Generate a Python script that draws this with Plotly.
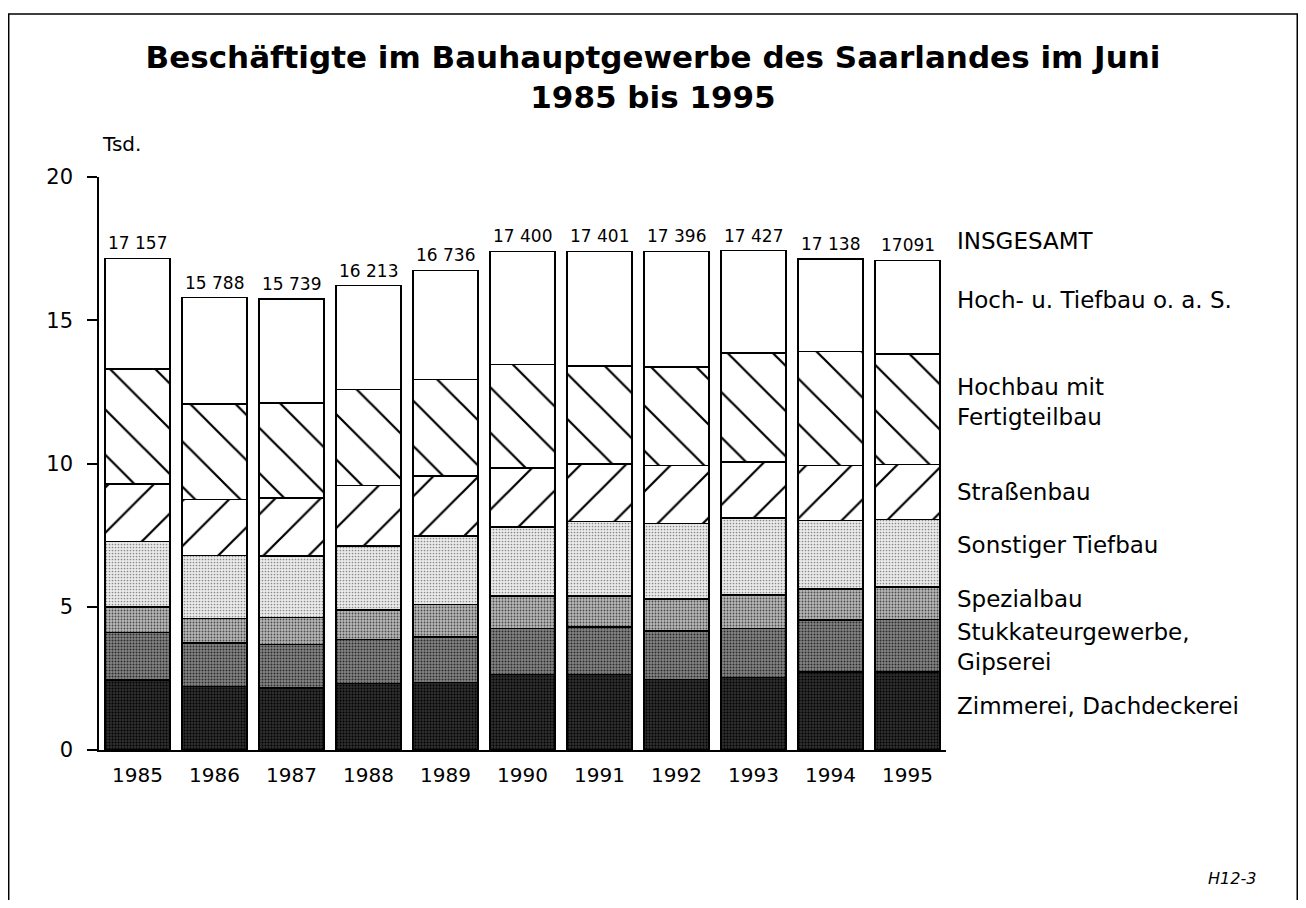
"""Beschäftigte im Bauhauptgewerbe des Saarlandes (Juni 1985-1995) as a
stacked, hatched bar chart in Plotly.
"""

import numpy as np
import plotly.graph_objects as go

# --- data (Tsd.) ----------------------------------------------------------
years = ["1985", "1986", "1987", "1988", "1989", "1990", "1991", "1992", "1993", "1994", "1995"]

zimmerei = [2.44, 2.21, 2.17, 2.32, 2.36, 2.64, 2.64, 2.46, 2.53, 2.73, 2.73]
stukkateur = [1.66, 1.53, 1.51, 1.54, 1.59, 1.60, 1.66, 1.69, 1.71, 1.80, 1.82]
spezialbau = [0.89, 0.85, 0.94, 1.02, 1.13, 1.13, 1.08, 1.13, 1.16, 1.08, 1.14]
sonst_tiefbau = [2.29, 2.20, 2.15, 2.24, 2.39, 2.41, 2.59, 2.62, 2.69, 2.40, 2.36]
strassenbau = [2.01, 1.96, 2.02, 2.11, 2.10, 2.06, 2.02, 2.03, 1.96, 1.92, 1.92]
hochbau = [4.00, 3.33, 3.32, 3.36, 3.36, 3.61, 3.42, 3.43, 3.81, 3.98, 3.85]
hoch_tief_oas = [3.87, 3.71, 3.63, 3.62, 3.81, 3.95, 3.99, 4.04, 3.57, 3.23, 3.27]

total_labels = ["17 157", "15 788", "15 739", "16 213", "16 736", "17 400",
                "17 401", "17 396", "17 427", "17 138", "17091"]

segment_names = [
    "Zimmerei, Dachdeckerei",
    "Stukkateurgewerbe,<br>Gipserei",
    "Spezialbau",
    "Sonstiger Tiefbau",
    "Straßenbau",
    "Hochbau mit<br>Fertigteilbau",
    "Hoch- u. Tiefbau o. a. S.",
]
segment_values = [zimmerei, stukkateur, spezialbau, sonst_tiefbau, strassenbau, hochbau, hoch_tief_oas]

# height (in Tsd.) of the labels on the right, one per segment
label_y = [1.54, 3.6, 5.27, 7.16, 9.0, 12.13, 15.7]
insgesamt_y = 17.75

FONT = "DejaVu Sans, Arial, sans-serif"

# fill style per segment: (pattern shape, fg colour, bg colour, size, solidity)
styles = [
    (".", "#000000", "#2e2e2e", 3, 0.35),
    (".", "#2a2a2a", "#858585", 3, 0.35),
    (".", "#4a4a4a", "#b8b8b8", 3, 0.3),
    (".", "#8a8a8a", "#ebebeb", 3, 0.25),
    ("/", "black", "white", 32, 0.07),
    ("\\", "black", "white", 32, 0.07),
    ("", "black", "white", 8, 0.2),
]

# figure fits inside the page body (8 px margin all round)
W, H = 1290, 892

fig = go.Figure()

for name, vals, (shape, fg, bg, size, sol) in zip(segment_names, segment_values, styles):
    fig.add_trace(
        go.Bar(
            x=years,
            y=vals,
            name=name,
            marker=dict(
                color=bg,
                line=dict(color="black", width=1.6),
                pattern=dict(shape=shape, fgcolor=fg, bgcolor=bg, size=size, solidity=sol, fillmode="replace"),
            ),
            hoverinfo="skip",
        )
    )

totals = np.sum(np.array(segment_values), axis=0)

annotations = []
# totals above the bars (category index as x, the year strings look numeric)
for i, (tot, lab) in enumerate(zip(totals, total_labels)):
    annotations.append(
        dict(x=i, y=float(tot), xref="x", yref="y", text=lab, showarrow=False,
             xanchor="center", yanchor="bottom", yshift=3,
             font=dict(family=FONT, size=17, color="black"))
    )
for name, yv in zip(segment_names, label_y):
    annotations.append(
        dict(x=1.0106, xref="paper", y=yv, yref="y", text=name, showarrow=False,
             xanchor="left", yanchor="middle", align="left",
             font=dict(family=FONT, size=23, color="black"))
    )
annotations += [
    dict(x=1.0106, xref="paper", y=insgesamt_y, yref="y", text="INSGESAMT", showarrow=False,
         xanchor="left", yanchor="middle", font=dict(family=FONT, size=23, color="black")),
    dict(x=0.001, xref="paper", y=1.057, yref="paper", text="Tsd.", showarrow=False,
         xanchor="left", yanchor="middle", font=dict(family=FONT, size=20, color="black")),
    dict(x=1.3684, xref="paper", y=-0.225, yref="paper", text="H12-3", showarrow=False,
         xanchor="right", yanchor="middle",
         font=dict(family=FONT, size=16, color="black", style="italic")),
]

fig.update_layout(
    width=W,
    height=H,
    margin=dict(l=91, r=W - 91 - 847, t=169, b=H - 169 - 573),
    barmode="stack",
    bargap=0.156,
    showlegend=False,
    paper_bgcolor="white",
    plot_bgcolor="white",
    font=dict(family=FONT, color="black"),
    title=dict(
        text="<b>Beschäftigte im Bauhauptgewerbe des Saarlandes im Juni<br>1985 bis 1995</b>",
        x=645 / W, xref="container", xanchor="center",
        y=1 - 60 / H, yref="container", yanchor="middle",
        font=dict(family=FONT, size=31, color="black"),
    ),
    annotations=annotations,
    shapes=[
        dict(type="rect", xref="paper", yref="paper", x0=-0.1066, x1=1.4147, y0=-0.4, y1=1.2845,
             line=dict(color="black", width=1.5), layer="below"),
    ],
)

fig.update_xaxes(
    type="category",
    range=[-0.5, 10.5],
    showline=True, linecolor="black", linewidth=1.5,
    ticks="", showgrid=False, zeroline=False,
    tickfont=dict(family=FONT, size=20),
    ticklabelstandoff=6,
)
fig.update_yaxes(
    range=[0, 20],
    tickvals=[0, 5, 10, 15, 20],
    showline=True, linecolor="black", linewidth=1.5,
    ticks="outside", ticklen=10, tickwidth=1.5, tickcolor="black",
    showgrid=False, zeroline=False,
    tickfont=dict(family=FONT, size=21),
    ticklabelstandoff=10,
)

fig.write_html("out.html")
